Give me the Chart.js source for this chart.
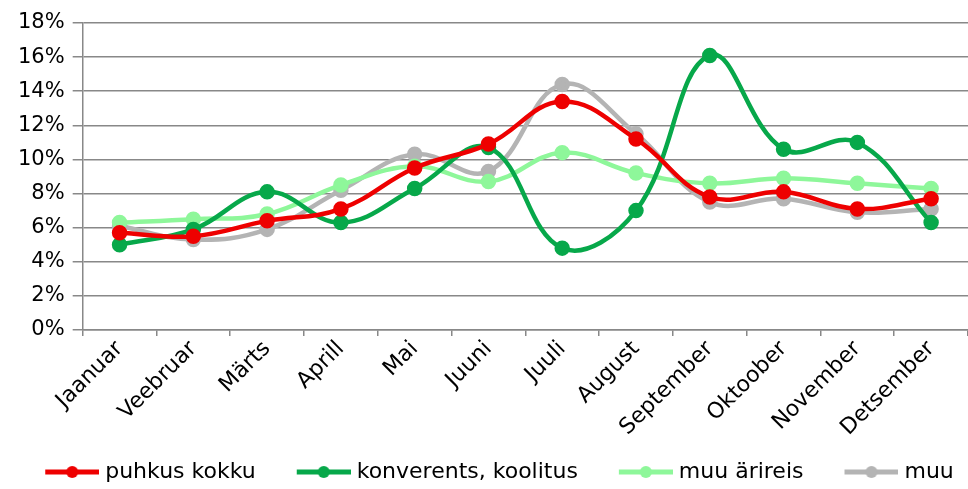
<!DOCTYPE html>
<html>
<head>
<meta charset="utf-8">
<script src="https://cdn.jsdelivr.net/npm/chart.js@4/dist/chart.umd.min.js"></script>
<style>
  html, body { margin: 0; padding: 0; background: #fff; overflow: hidden; }
  #wrap { width: 968px; height: 489px; position: relative; }
</style>
</head>
<body>
<div id="wrap"><canvas id="monthChart"></canvas></div>
<script>
'use strict';

const months = ['Jaanuar', 'Veebruar', 'Märts', 'Aprill', 'Mai', 'Juuni', 'Juuli', 'August', 'September', 'Oktoober', 'November', 'Detsember'];
const puhkusKokku = [5.7, 5.5, 6.4, 7.1, 9.5, 10.9, 13.4, 11.2, 7.8, 8.1, 7.1, 7.7];
const konverentsKoolitus = [5.0, 5.9, 8.1, 6.3, 8.3, 10.7, 4.8, 7.0, 16.1, 10.6, 11.0, 6.3];
const muuArireis = [6.3, 6.5, 6.8, 8.5, 9.6, 8.7, 10.4, 9.2, 8.6, 8.9, 8.6, 8.3];
const muu = [6.1, 5.3, 5.9, 8.2, 10.3, 9.3, 14.4, 11.5, 7.5, 7.7, 6.9, 7.1];
const yTicks = [0, 2, 4, 6, 8, 10, 12, 14, 16, 18];

const fontFamily = 'Verdana, "DejaVu Sans", sans-serif';
const seriesColors = ['#ee0000', '#07a84a', '#8ef79a', '#b4b4b4'];

// legend key: blank gap on the left, then a short line with a dot
function legendMarker(color) {
  const c = document.createElement('canvas');
  c.width = 90;
  c.height = 14;
  const g = c.getContext('2d');
  g.strokeStyle = color;
  g.lineWidth = 5;
  g.beginPath();
  g.moveTo(36, 7);
  g.lineTo(90, 7);
  g.stroke();
  g.fillStyle = color;
  g.beginPath();
  g.arc(63, 7, 6, 0, Math.PI * 2);
  g.fill();
  return c;
}

function makeSeries(label, data, color) {
  return {
    label: label,
    data: data,
    borderColor: color,
    backgroundColor: color,
    borderWidth: 4.5,
    pointRadius: 5.5,
    pointHoverRadius: 5.5,
    pointStyle: 'circle',
    tension: 0.4,
    fill: false
  };
}

const datasets = [
  makeSeries('puhkus kokku', puhkusKokku, seriesColors[0]),
  makeSeries('konverents, koolitus', konverentsKoolitus, seriesColors[1]),
  makeSeries('muu ärireis', muuArireis, seriesColors[2]),
  makeSeries('muu', muu, seriesColors[3])
];

const ctx = document.getElementById('monthChart').getContext('2d');

new Chart(ctx, {
  type: 'line',
  data: {
    labels: months,
    datasets: datasets
  },
  options: {
    responsive: true,
    maintainAspectRatio: false,
    animation: false,
    layout: {
      autoPadding: false,
      padding: { top: 23, right: 0, left: 0, bottom: -4 }
    },
    plugins: {
      tooltip: { enabled: false },
      legend: {
        position: 'bottom',
        labels: {
          color: '#000',
          font: { family: fontFamily, size: 22 },
          usePointStyle: true,
          pointStyleWidth: 80,
          boxHeight: 14,
          padding: 10,
          generateLabels: function(chart) {
            return chart.data.datasets.map(function(ds, i) {
              return {
                text: ds.label,
                pointStyle: legendMarker(seriesColors[i]),
                fillStyle: seriesColors[i],
                strokeStyle: seriesColors[i],
                lineWidth: 0,
                hidden: false,
                datasetIndex: i
              };
            });
          }
        }
      }
    },
    scales: {
      x: {
        offset: true,
        border: { color: '#888', width: 1.5 },
        grid: {
          offset: true,
          drawOnChartArea: false,
          color: '#888',
          lineWidth: 1.5,
          tickLength: 6
        },
        ticks: {
          color: '#000',
          font: { family: fontFamily, size: 22 },
          minRotation: 45,
          maxRotation: 45,
          autoSkip: false,
          padding: 0
        },
        afterFit: function(axis) {
          axis.paddingRight = 0;
          axis.height += 10;
        }
      },
      y: {
        min: 0,
        max: 18,
        afterBuildTicks: function(axis) {
          axis.ticks = yTicks.map(function(v) { return { value: v }; });
        },
        afterFit: function(axis) {
          axis.width += 10;
        },
        border: { color: '#888', width: 1.5 },
        grid: {
          color: '#888',
          lineWidth: 1.5,
          tickLength: 10
        },
        ticks: {
          color: '#000',
          font: { family: fontFamily, size: 21 },
          padding: 8,
          callback: function(v) { return v + '%'; }
        }
      }
    }
  }
});
</script>
</body>
</html>
